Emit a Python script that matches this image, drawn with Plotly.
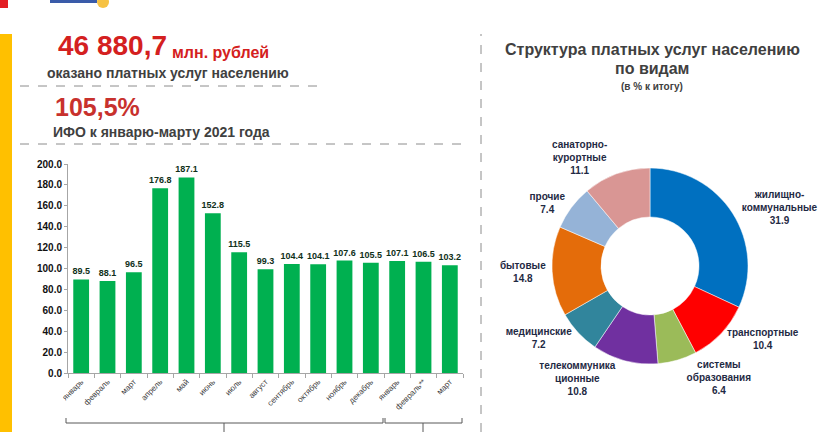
import plotly.graph_objects as go

# ---------------- data ----------------
months = ["январь", "февраль", "март", "апрель", "май", "июнь", "июль", "август",
          "сентябрь", "октябрь", "ноябрь", "декабрь", "январь", "февраль**", "март"]
ifo_values = [89.5, 88.1, 96.5, 176.8, 187.1, 152.8, 115.5, 99.3,
              104.4, 104.1, 107.6, 105.5, 107.1, 106.5, 103.2]
y_ticks = [0, 20, 40, 60, 80, 100, 120, 140, 160, 180, 200]

service_types = ["жилищно-<br>коммунальные", "транспортные", "системы<br>образования",
                 "телекоммуника<br>ционные", "медицинские", "бытовые", "прочие",
                 "санаторно-<br>курортные"]
service_shares = [31.9, 10.4, 6.4, 10.8, 7.2, 14.8, 7.4, 11.1]
service_colors = ["#0070C0", "#FF0000", "#9BBB59", "#7030A0", "#31859C",
                  "#E46C0A", "#95B3D7", "#D99694"]

W, H = 832, 432
def px(x): return x / W
def py(y): return 1 - y / H

fig = go.Figure()

x_idx = list(range(len(months)))
fig.add_trace(go.Bar(
    x=x_idx, y=ifo_values, marker=dict(color="#00B050", line=dict(width=0)),
    width=0.6, text=ifo_values, texttemplate="%{y:.1f}", textposition="outside",
    constraintext="none",
    textfont=dict(family="Liberation Sans", size=9, color="#10301A", weight="bold"),
    cliponaxis=False, showlegend=False, hoverinfo="skip"))

fig.add_trace(go.Pie(
    labels=service_types, values=service_shares, sort=False, direction="clockwise",
    rotation=0, hole=0.5, marker=dict(colors=service_colors, line=dict(color="white", width=0.5)),
    textinfo="text", text=[f"{l}<br>{v:.1f}" for l, v in zip(service_types, service_shares)],
    textposition="outside", showlegend=False, hoverinfo="skip",
    textfont=dict(family="Liberation Sans", size=10, color="#1F2A44", weight="bold"),
    domain=dict(x=[px(552), px(748)], y=[py(364), py(168)])))

fig.update_xaxes(
    domain=[px(68), px(463)], range=[-0.5, len(months) - 0.5],
    tickvals=x_idx, ticktext=months, tickangle=-45, ticks="", showgrid=False,
    showline=True, linecolor="#A6A6A6", linewidth=1, zeroline=False, automargin=False,
    tickfont=dict(family="Liberation Sans", size=8, color="#404040"),
    minor=dict(tickvals=[i + 0.5 for i in range(-1, len(months))], ticks="outside",
               ticklen=4, tickcolor="#A6A6A6"))
fig.update_yaxes(
    domain=[py(373), py(164)], range=[0, 200], tickvals=y_ticks, tickformat=".1f",
    ticks="outside", ticklen=3, tickcolor="#A6A6A6", showgrid=False, zeroline=False,
    showline=True, linecolor="#A6A6A6", linewidth=1, automargin=False,
    tickfont=dict(family="Liberation Sans", size=10, color="#111111", weight="bold"))

shapes = []
# red corner square and yellow side stripe
shapes.append(dict(type="rect", xref="paper", yref="paper", x0=0, x1=px(8), y0=py(8), y1=1,
                   fillcolor="#E31E24", line=dict(width=0)))
shapes.append(dict(type="rect", xref="paper", yref="paper", x0=0, x1=px(12), y0=0, y1=py(34),
                   fillcolor="#FFC000", line=dict(width=0)))
# logo fragment
shapes.append(dict(type="rect", xref="paper", yref="paper", x0=px(50), x1=px(97), y0=py(3), y1=1,
                   fillcolor="#3A5BA9", line=dict(width=0)))
shapes.append(dict(type="circle", xref="paper", yref="paper", x0=px(97), x1=px(109), y0=py(8), y1=py(-4),
                   fillcolor="#F6C244", line=dict(width=0)))
# dashed separators
for (x0, x1, y) in [(20, 318, 86), (20, 470, 144)]:
    shapes.append(dict(type="line", xref="paper", yref="paper", x0=px(x0), x1=px(x1), y0=py(y), y1=py(y),
                       line=dict(color="#8C8C8C", width=1, dash="dash")))
shapes.append(dict(type="line", xref="paper", yref="paper", x0=px(481), x1=px(481), y0=0, y1=py(34),
                   line=dict(color="#8C8C8C", width=1, dash="dash")))
# year brackets
for (x0, x1, xc) in [(66, 383, 224), (385, 462, 423)]:
    shapes.append(dict(type="path", xref="paper", yref="paper",
                       path=f"M {px(x0)} {py(418)} L {px(x0)} {py(423)} L {px(x1)} {py(423)} L {px(x1)} {py(418)}",
                       line=dict(color="#595959", width=1)))
    shapes.append(dict(type="line", xref="paper", yref="paper", x0=px(xc), x1=px(xc), y0=py(423), y1=0,
                       line=dict(color="#595959", width=1)))

ann = []
def text(x, y, s, size, color, xanchor="left", yanchor="middle"):
    ann.append(dict(x=px(x), y=py(y), xref="paper", yref="paper", text=s, showarrow=False,
                    xanchor=xanchor, yanchor=yanchor,
                    font=dict(family="Liberation Sans", size=size, color=color, weight="bold")))

text(56, 63, "46 880,7", 28, "#D42020", yanchor="bottom")
text(170, 63, "млн. рублей", 16, "#D42020", yanchor="bottom")
text(45, 73, "оказано платных услуг населению", 14, "#404040")
text(53, 123, "105,5%", 25, "#C8312D", yanchor="bottom")
text(51, 132, "ИФО к январю-марту 2021 года", 14, "#404040")
text(652, 49, "Структура платных услуг населению", 16, "#404040", xanchor="center")
text(652, 68, "по видам", 16, "#404040", xanchor="center")
text(652, 86, "(в % к итогу)", 10, "#404040", xanchor="center")

fig.update_layout(width=W, height=H, margin=dict(l=0, r=0, t=0, b=0, autoexpand=False),
                  paper_bgcolor="white", plot_bgcolor="white",
                  shapes=shapes, annotations=ann, bargap=0.4)

fig.write_html("out.html", config={"displayModeBar": False},
               post_script="document.body.style.margin='0';document.body.style.padding='0';"
                           "document.body.style.overflow='hidden';")
